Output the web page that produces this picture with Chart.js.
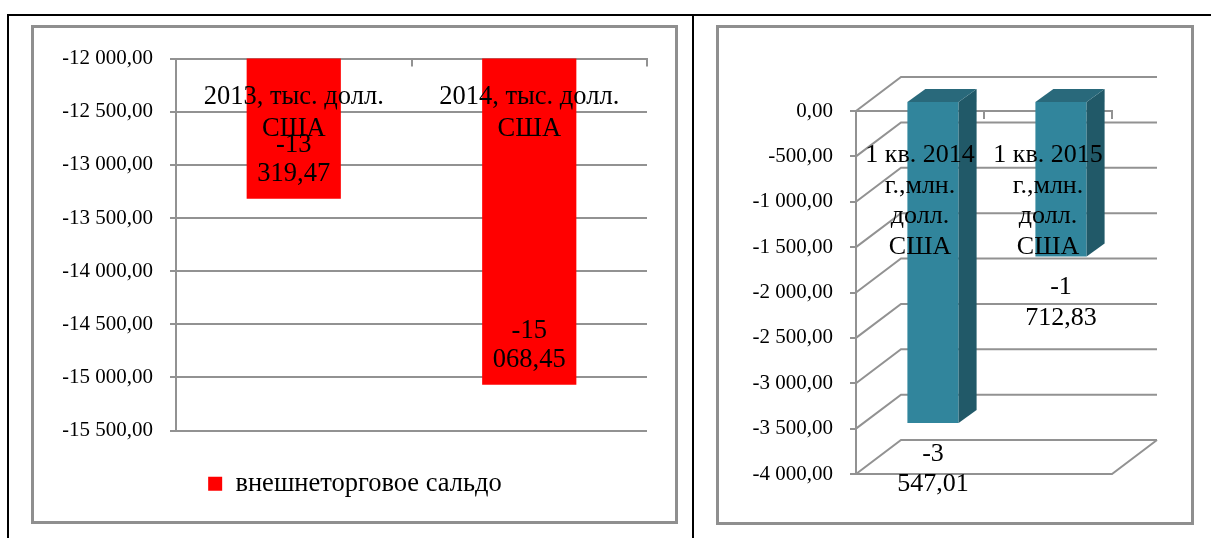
<!DOCTYPE html>
<html>
<head>
<meta charset="utf-8">
<script src="https://cdn.jsdelivr.net/npm/chart.js@4.4.0/dist/chart.umd.min.js"></script>
<style>
  body { margin: 0; background: #fff; }
  .page { position: relative; width: 1211px; height: 538px; overflow: hidden; }
  .rule { position: absolute; background: #000; }
  .frame { position: absolute; border: 3px solid #8f8f8f; box-sizing: border-box; }
  canvas { position: absolute; }
</style>
</head>
<body>
<div class="page">
  <div class="rule" style="left:7px; top:14px; width:1204px; height:2px"></div>
  <div class="rule" style="left:7px; top:14px; width:2px; height:524px"></div>
  <div class="rule" style="left:692px; top:14px; width:2px; height:524px"></div>
  <div class="frame" style="left:31px; top:25px; width:647px; height:499px"></div>
  <div class="frame" style="left:716px; top:25px; width:478px; height:500px"></div>
  <canvas id="left" width="640" height="492" style="left:35px; top:29px"></canvas>
  <canvas id="right" width="470" height="492" style="left:720px; top:29px"></canvas>
</div>
<script>
// left chart: внешнеторговое сальдо, тыс. долл. США
const leftCategories = [['2013, тыс. долл.', 'США'], ['2014, тыс. долл.', 'США']];
const leftValues = [-13319.47, -15068.45];
const leftSeries = 'внешнеторговое сальдо';
const leftMin = -15500, leftMax = -12000, leftStep = 500;

// right chart: 1 кв., млн. долл. США
const rightCategories = [['1 кв. 2014', 'г.,млн.', 'долл.', 'США'], ['1 кв. 2015', 'г.,млн.', 'долл.', 'США']];
const rightValues = [-3547.01, -1712.83];
const rightMin = -4000, rightMax = 0, rightStep = 500;

const FONT = "'Liberation Serif', 'Times New Roman', serif";
const GRID = '#929292';
const FRONT = '#31859c', SIDE = '#215968', TOP = '#29697b';

Chart.defaults.font.family = FONT;
Chart.defaults.color = '#000';

// -12 000,00 style
function fmt(v) {
  const parts = Math.abs(v).toFixed(2).split('.');
  const whole = parts[0].replace(/\B(?=(\d{3})+(?!\d))/g, ' ');
  return (v < 0 ? '-' : '') + whole + ',' + parts[1];
}

function writeLines(ctx, lines, x, y, step) {
  lines.forEach((t, k) => ctx.fillText(t, x, y + k * step));
}

const topAxis = {
  position: 'top',
  z: 1,
  ticks: { display: false },
  grid: { drawOnChartArea: false, tickLength: -8, color: GRID, lineWidth: 2 },
  border: { color: GRID, width: 2 },
  afterFit: s => { s.height = 0; }
};

const leftLabels = {
  id: 'leftLabels',
  afterDatasetsDraw(chart) {
    const ctx = chart.ctx;
    const xs = chart.scales.x;
    const area = chart.chartArea;
    ctx.save();
    ctx.font = '26.5px ' + FONT;
    ctx.fillStyle = '#000';
    ctx.textAlign = 'center';
    ctx.textBaseline = 'alphabetic';
    chart.data.labels.forEach((lines, i) => {
      writeLines(ctx, lines, xs.getPixelForValue(i), area.top + 45, 32);
    });
    chart.getDatasetMeta(0).data.forEach((bar, i) => {
      const lines = fmt(chart.data.datasets[0].data[i]).split(' ');
      writeLines(ctx, lines, bar.x, bar.y - 47, 29);
    });
    ctx.restore();
  }
};

new Chart(document.getElementById('left'), {
  type: 'bar',
  data: {
    labels: leftCategories,
    datasets: [{
      label: leftSeries,
      data: leftValues,
      backgroundColor: '#ff0000',
      borderWidth: 0,
      barPercentage: 0.4,
      categoryPercentage: 1
    }]
  },
  options: {
    responsive: false,
    animation: false,
    layout: { padding: { left: 28, top: 26, right: 28, bottom: 14 } },
    plugins: {
      legend: {
        position: 'bottom',
        labels: { boxWidth: 14, boxHeight: 14, padding: 40, color: '#000', font: { size: 26.5 } }
      },
      tooltip: { enabled: false }
    },
    scales: {
      x: topAxis,
      y: {
        min: leftMin,
        max: leftMax,
        ticks: { stepSize: leftStep, padding: 17, font: { size: 21 }, callback: v => fmt(v) },
        grid: { color: GRID, lineWidth: 2, tickLength: 6 },
        border: { color: GRID, width: 2 },
        afterFit: s => { s.width = 113; }
      }
    }
  },
  plugins: [leftLabels]
});

// fake 3D: back wall offset and bar offsets
const DX = 45, DY = -34;
const BX = 13, BY = -10;
const SX = 18, SY = -13;

const wall3d = {
  id: 'wall3d',
  beforeDatasetsDraw(chart) {
    const { ctx, chartArea: a } = chart;
    const ys = chart.scales.y;
    ctx.save();
    ctx.strokeStyle = GRID;
    ctx.lineWidth = 2;
    ys.ticks.forEach(t => {
      const py = ys.getPixelForValue(t.value);
      ctx.beginPath();
      ctx.moveTo(a.left, py);
      ctx.lineTo(a.left + DX, py + DY);
      ctx.lineTo(a.right + DX, py + DY);
      ctx.stroke();
    });
    const pb = ys.getPixelForValue(ys.min);
    ctx.beginPath();
    ctx.moveTo(a.left, pb);
    ctx.lineTo(a.right, pb);
    ctx.lineTo(a.right + DX, pb + DY);
    ctx.stroke();
    ctx.restore();
    ctx.save();
    ctx.translate(BX, BY);
  },
  afterDatasetsDraw(chart) {
    const ctx = chart.ctx;
    ctx.restore();
    chart.getDatasetMeta(0).data.forEach(bar => {
      const l = bar.x - bar.width / 2 + BX, r = bar.x + bar.width / 2 + BX;
      const t = bar.base + BY, b = bar.y + BY;
      ctx.fillStyle = SIDE;
      ctx.beginPath();
      ctx.moveTo(r, t); ctx.lineTo(r + SX, t + SY); ctx.lineTo(r + SX, b + SY); ctx.lineTo(r, b);
      ctx.closePath(); ctx.fill();
      ctx.fillStyle = TOP;
      ctx.beginPath();
      ctx.moveTo(l, t); ctx.lineTo(l + SX, t + SY); ctx.lineTo(r + SX, t + SY); ctx.lineTo(r, t);
      ctx.closePath(); ctx.fill();
    });
  },
  afterDraw(chart) {
    const ctx = chart.ctx;
    const xs = chart.scales.x;
    const area = chart.chartArea;
    ctx.save();
    ctx.font = '26px ' + FONT;
    ctx.fillStyle = '#000';
    ctx.textAlign = 'center';
    ctx.textBaseline = 'alphabetic';
    chart.data.labels.forEach((lines, i) => {
      writeLines(ctx, lines, xs.getPixelForValue(i), area.top + 51, 30.7);
    });
    chart.getDatasetMeta(0).data.forEach((bar, i) => {
      const lines = fmt(chart.data.datasets[0].data[i]).split(' ');
      writeLines(ctx, lines, bar.x + BX, bar.y + BY + 38, 30.5);
    });
    ctx.restore();
  }
};

new Chart(document.getElementById('right'), {
  type: 'bar',
  data: {
    labels: rightCategories,
    datasets: [{
      data: rightValues,
      backgroundColor: FRONT,
      borderWidth: 0,
      barPercentage: 0.4,
      categoryPercentage: 1,
      clip: false
    }]
  },
  options: {
    responsive: false,
    animation: false,
    layout: { padding: { left: 0, top: 82, right: 78, bottom: 47 } },
    plugins: { legend: { display: false }, tooltip: { enabled: false } },
    scales: {
      x: topAxis,
      y: {
        min: rightMin,
        max: rightMax,
        ticks: { stepSize: rightStep, padding: 17, font: { size: 21 }, callback: v => fmt(v) },
        grid: { drawOnChartArea: false, color: GRID, lineWidth: 2, tickLength: 6 },
        border: { color: GRID, width: 2 },
        afterFit: s => { s.width = 136; }
      }
    }
  },
  plugins: [wall3d]
});
</script>
</body>
</html>
